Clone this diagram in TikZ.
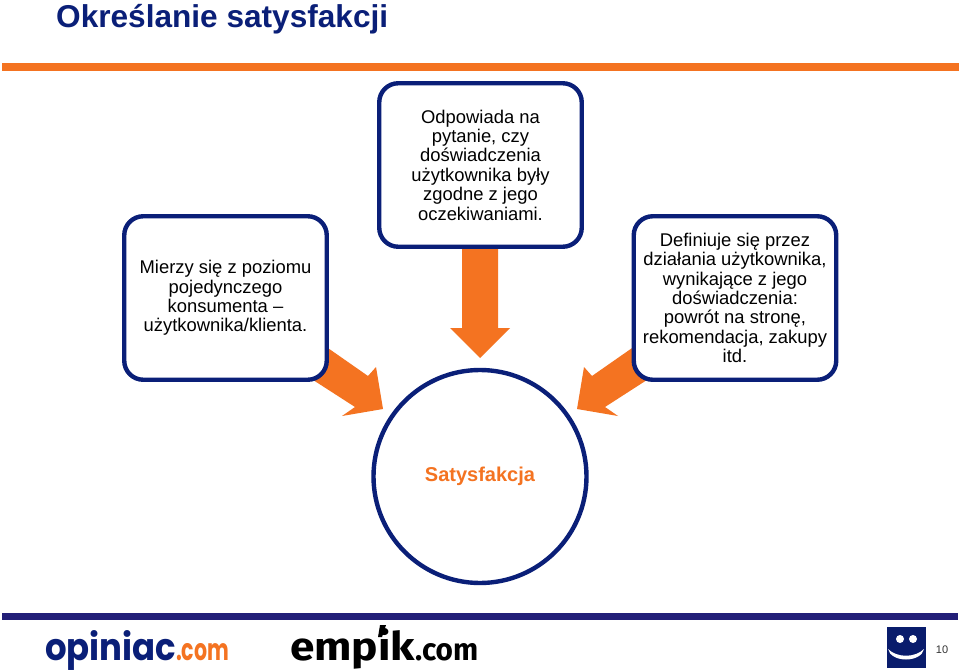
\documentclass[tikz,border=0pt]{standalone}
\usepackage{fontspec}
\setmainfont{Liberation Sans}
\newfontfamily\logofont{Poppins}
\newfontfamily\logofontb{Fira Sans}
\definecolor{navyline}{HTML}{0A1F78}
\definecolor{barnavy}{HTML}{231F78}
\definecolor{orangeb}{HTML}{F47321}
\tikzset{
  x=1pt,y=-1pt,
  infobox/.style={draw=navyline,line width=4.4pt,rounded corners=19pt,fill=white,minimum width=202.5pt,minimum height=163.5pt,inner sep=0pt,align=center,text=black,font=\fontsize{18.4}{19.4}\selectfont},
  blockarrow/.style={fill=orangeb,draw=none},
  logotext/.style={anchor=base west,inner sep=0pt},
}
\begin{document}
\begin{tikzpicture}
\useasboundingbox (0,0) rectangle (959,671);
\fill[white] (0,0) rectangle (959,671);
\node[anchor=base west,inner sep=0pt,text=navyline,font=\bfseries\fontsize{31.6}{36}\selectfont] (title) at (56,28) {Określanie satysfakcji};
\fill[orangeb] (2,63.5) rectangle (959,71);
\fill[barnavy] (2,613) rectangle (958,620);
% arrows
\fill[blockarrow] (462,240) -- (498,240) -- (498,328) -- (510,328) -- (480,358) -- (450,328) -- (462,328) -- cycle;
\fill[blockarrow] (325,346) -- (368,376) -- (376,367) -- (383,409) -- (342,416) -- (355,407) -- (310,378) -- cycle;
\fill[blockarrow] (635,346) -- (592,376) -- (584,367) -- (577,409) -- (618,416) -- (605,407) -- (650,378) -- cycle;
% boxes
\node[infobox] (left) at (225.5,298) {Mierzy się z poziomu\\pojedynczego\\konsumenta --\\użytkownika/klienta.};
\node[infobox] (top) at (480.5,165) {Odpowiada na\\pytanie, czy\\doświadczenia\\użytkownika były\\zgodne z jego\\oczekiwaniami.};
\node[infobox] (right) at (735,298) {Definiuje się przez\\działania użytkownika,\\wynikające z jego\\doświadczenia:\\powrót na stronę,\\rekomendacja, zakupy\\itd.};
\node[circle,draw=navyline,line width=4.4pt,fill=white,minimum size=213pt,inner sep=0pt,text=orangeb,font=\bfseries\fontsize{20}{24}\selectfont] (sat) at (480,476.5) {Satysfakcja};
% logos
\node[logotext] (opi) at (45,660) {\resizebox{131pt}{30pt}{\logofont\bfseries\textcolor{navyline}{opiniac}}};
\node[logotext] (opc) at (176,660) {\resizebox{53pt}{17pt}{\logofont\bfseries\textcolor{orangeb}{.com}}};
\node[logotext] (emp) at (290,660) {\resizebox{125pt}{32pt}{\logofontb\bfseries empik}};
\node[logotext] (emc) at (415,660) {\resizebox{63pt}{17pt}{\logofontb\bfseries .com}};
\fill[black] (380,625) -- (386,625) -- (382,637) -- (378,637) -- cycle;
% smiley
\fill[navyline!90!black] (887,627) rectangle (926,668);
\fill[white] (900,639) circle (4pt) (913,639) circle (4pt);
\fill[white] (888,649) .. controls (897,658) and (915,658) .. (924,649) .. controls (921,663) and (891,663) .. (888,649) -- cycle;
\node[anchor=base,inner sep=0pt,font=\fontsize{11}{12}\selectfont,text=black!80] (num) at (942,653) {10};
\end{tikzpicture}
\end{document}
